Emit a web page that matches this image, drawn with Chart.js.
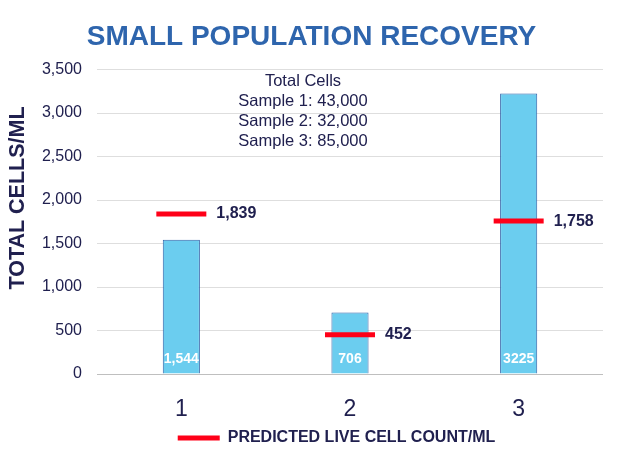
<!DOCTYPE html>
<html lang="en">
<head>
    <meta charset="UTF-8">
    <title>Small Population Recovery</title>
    <script src="https://cdn.jsdelivr.net/npm/chart.js"></script>
    <style>
        body {
            margin: 0;
            background: #ffffff;
        }
        .wrap {
            width: 618px;
            height: 466px;
        }
    </style>
</head>
<body>
    <div class="wrap">
        <canvas id="myChart" width="618" height="466"></canvas>
    </div>

    <script>
        // chart data
        const labels = ['1', '2', '3'];
        const totalCells = [1544, 706, 3225];
        const predicted = [1839, 452, 1758];
        const barLabels = ['1,544', '706', '3225'];
        const predictedLabels = ['1,839', '452', '1,758'];
        const noteLines = ['Total Cells', 'Sample 1: 43,000', 'Sample 2: 32,000', 'Sample 3: 85,000'];

        const navy = '#20204f';
        const font = 'Liberation Sans, Arial, sans-serif';

        // draws the value labels, the note and the y axis title
        const extraText = {
            id: 'extraText',
            afterLayout(chart) {
                // title and legend sit a bit right of where chart.js centres them
                if (chart.titleBlock) {
                    chart.titleBlock.left += 10;
                    chart.titleBlock.right += 10;
                }
                if (chart.legend) {
                    chart.legend.left += 35;
                    chart.legend.right += 35;
                }
            },
            afterDatasetsDraw(chart) {
                const ctx = chart.ctx;
                const area = chart.chartArea;
                ctx.save();

                // white numbers at the foot of each bar
                const barMeta = chart.getDatasetMeta(0);
                ctx.font = 'bold 14px ' + font;
                ctx.fillStyle = '#ffffff';
                ctx.textAlign = 'center';
                ctx.textBaseline = 'middle';
                barMeta.data.forEach(function (bar, i) {
                    ctx.fillText(barLabels[i], bar.x, area.bottom - 15);
                });

                // predicted values right of the red markers
                const lineMeta = chart.getDatasetMeta(1);
                ctx.font = 'bold 16px ' + font;
                ctx.fillStyle = navy;
                ctx.textAlign = 'left';
                lineMeta.data.forEach(function (pt, i) {
                    ctx.fillText(predictedLabels[i], pt.x + 35, pt.y);
                });

                // note in the top of the plot
                ctx.font = '16.5px ' + font;
                ctx.textAlign = 'center';
                noteLines.forEach(function (line, i) {
                    ctx.fillText(line, 303, 81 + i * 20.3);
                });

                // y axis title
                ctx.font = 'bold 21.5px ' + font;
                ctx.translate(18, 198);
                ctx.rotate(-Math.PI / 2);
                ctx.fillText('TOTAL CELLS/ML', 0, 0);
                ctx.restore();
            }
        };

        const config = {
            type: 'bar',
            data: {
                labels: labels,
                datasets: [{
                    label: 'Total cells/ml',
                    data: totalCells,
                    backgroundColor: '#6bcdef',
                    borderColor: '#2f62a8',
                    borderWidth: 1,
                    categoryPercentage: 1,
                    barPercentage: 0.22,
                    order: 2
                }, {
                    type: 'line',
                    label: 'PREDICTED LIVE CELL COUNT/ML',
                    data: predicted,
                    showLine: false,
                    pointStyle: 'line',
                    pointRadius: 25,
                    pointHoverRadius: 25,
                    pointBorderWidth: 5,
                    pointBorderColor: '#ff0018',
                    borderColor: '#ff0018',
                    backgroundColor: '#ff0018',
                    order: 1
                }]
            },
            options: {
                responsive: false,
                animation: false,
                layout: {
                    autoPadding: false,
                    padding: { left: 0, right: 15, bottom: 10, top: 0 }
                },
                plugins: {
                    title: {
                        display: true,
                        text: 'SMALL POPULATION RECOVERY',
                        color: '#2e65ad',
                        font: { family: font, size: 28, weight: 'bold' },
                        padding: { top: 20, bottom: 16 }
                    },
                    legend: {
                        position: 'bottom',
                        labels: {
                            usePointStyle: true,
                            pointStyleWidth: 42,
                            boxHeight: 14,
                            color: navy,
                            font: { family: font, size: 16, weight: 'bold' },
                            padding: 10,
                            filter: function (item) {
                                return item.datasetIndex === 1;
                            }
                        }
                    },
                    tooltip: { enabled: false }
                },
                scales: {
                    x: {
                        grid: { display: false, drawTicks: false },
                        border: { display: false },
                        ticks: {
                            color: navy,
                            padding: 22,
                            font: { family: font, size: 23 }
                        },
                        afterFit: function (scale) {
                            scale.height = 46;
                        }
                    },
                    y: {
                        min: 0,
                        max: 3500,
                        grid: {
                            drawTicks: false,
                            color: function (c) {
                                return c.tick.value === 0 ? '#bfbfbf' : '#dedede';
                            }
                        },
                        border: { display: false },
                        ticks: {
                            stepSize: 500,
                            color: navy,
                            padding: 15,
                            font: { family: font, size: 16 },
                            callback: function (v) {
                                return v.toLocaleString('en-US');
                            }
                        },
                        afterFit: function (scale) {
                            scale.width = 97;
                        }
                    }
                }
            },
            plugins: [extraText]
        };

        var myChart = new Chart(document.getElementById('myChart'), config);
    </script>
</body>
</html>
